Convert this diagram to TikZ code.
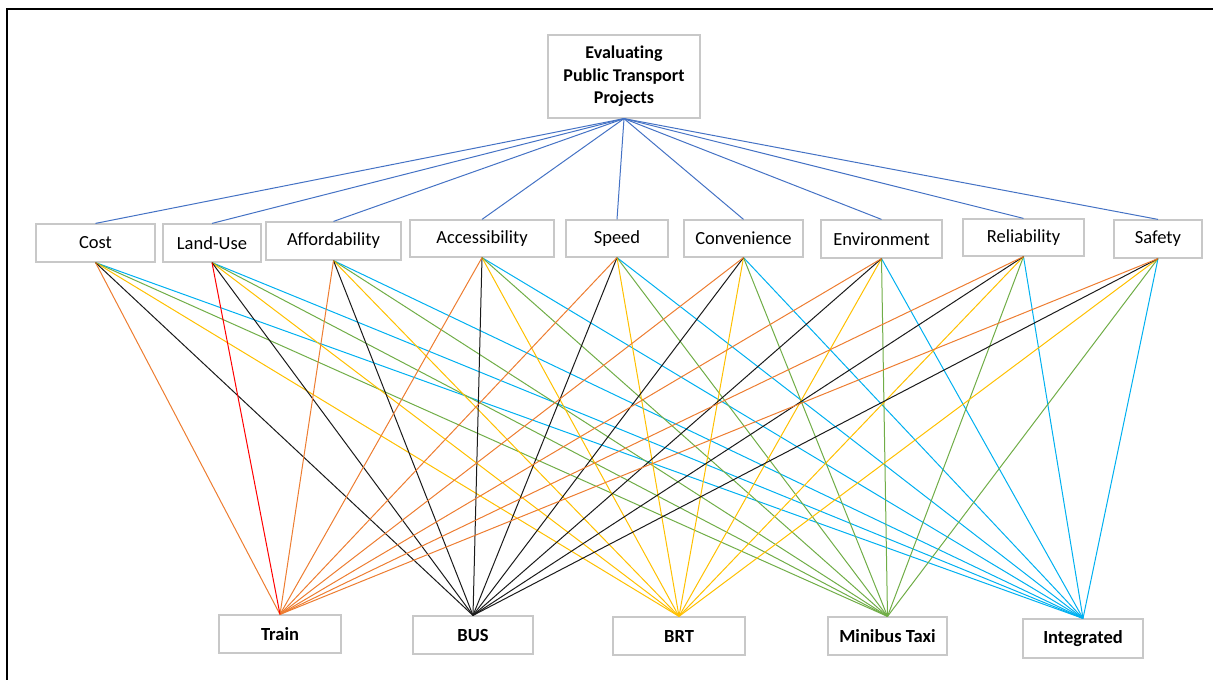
\documentclass[tikz,border=0pt]{standalone}
\usepackage{fontspec}
\setmainfont{Carlito}[Ligatures=NoCommon]
\definecolor{boxgray}{HTML}{C8C8C8}
\definecolor{linkblue}{HTML}{4472C4}
\definecolor{cTrain}{HTML}{ED7D31}
\definecolor{cBus}{HTML}{1A1A1A}
\definecolor{cBrt}{HTML}{FFC000}
\definecolor{cTaxi}{HTML}{70AD47}
\definecolor{cInt}{HTML}{00B0F0}
\definecolor{cRed}{HTML}{FF0000}
\begin{document}
\begin{tikzpicture}[x=1pt,y=-1pt,
  box/.style={draw=boxgray,line width=1.2pt,fill=white,inner sep=0pt,align=center},
  crit/.style={box,font=\fontsize{18.5}{22}\selectfont},
  alt/.style={box,font=\bfseries\fontsize{18.5}{22}\selectfont},
  link/.style={line width=1pt},
]
\useasboundingbox (0,0) rectangle (1213,680);
% frame (top and left edges)
\draw[line width=2pt] (6.5,680) -- (6.5,8.5) -- (1213,8.5);

% goal
\node[box,minimum width=152pt,minimum height=83pt,font=\bfseries\fontsize{18}{22.5}\selectfont] (goal) at (624,76.5) {Evaluating\\Public Transport\\Projects};

% criteria
\node[crit,minimum width=119pt,minimum height=38pt] (cost) at (95.5,243) {Cost};
\node[crit,minimum width=98pt,minimum height=38pt] (land) at (212,243) {Land-Use};
\node[crit,minimum width=135pt,minimum height=38pt] (afford) at (333.5,241) {Affordability};
\node[crit,minimum width=144pt,minimum height=37pt] (access) at (482,238.5) {Accessibility};
\node[crit,minimum width=102pt,minimum height=37pt] (speed) at (617,238.5) {Speed};
\node[crit,minimum width=119pt,minimum height=37pt] (conv) at (743.5,238.5) {Convenience};
\node[crit,minimum width=121pt,minimum height=38pt] (env) at (881.5,239) {Environment};
\node[crit,minimum width=121pt,minimum height=37pt] (rel) at (1023.5,237.5) {Reliability};
\node[crit,minimum width=88pt,minimum height=38pt] (safe) at (1158,239) {Safety};

% alternatives
\node[alt,minimum width=122pt,minimum height=38pt] (train) at (280,634) {Train};
\node[alt,minimum width=120pt,minimum height=38pt] (bus) at (473,635) {BUS};
\node[alt,minimum width=132pt,minimum height=38pt] (brt) at (679,636) {BRT};
\node[alt,minimum width=119pt,minimum height=38pt] (taxi) at (887.5,636) {Minibus Taxi};
\node[alt,minimum width=120pt,minimum height=39pt] (integ) at (1083,638.5) {Integrated};

% goal to criteria
\foreach \c in {cost,land,afford,access,speed,conv,env,rel,safe}
  \draw[link,linkblue] (goal.south) -- (\c.north);

% criteria to alternatives
\foreach \c in {cost,land,afford,access,speed,conv,env,rel,safe}{
  \draw[link,cInt] (\c.south) -- (integ.north);
  \draw[link,cTaxi] (\c.south) -- (taxi.north);
  \draw[link,cBrt] (\c.south) -- (brt.north);
  \draw[link,cBus] (\c.south) -- (bus.north);
}
\foreach \c in {cost,afford,access,speed,conv,env,rel,safe}
  \draw[link,cTrain] (\c.south) -- (train.north);
\draw[link,cRed] (land.south) -- (train.north);
\end{tikzpicture}
\end{document}
